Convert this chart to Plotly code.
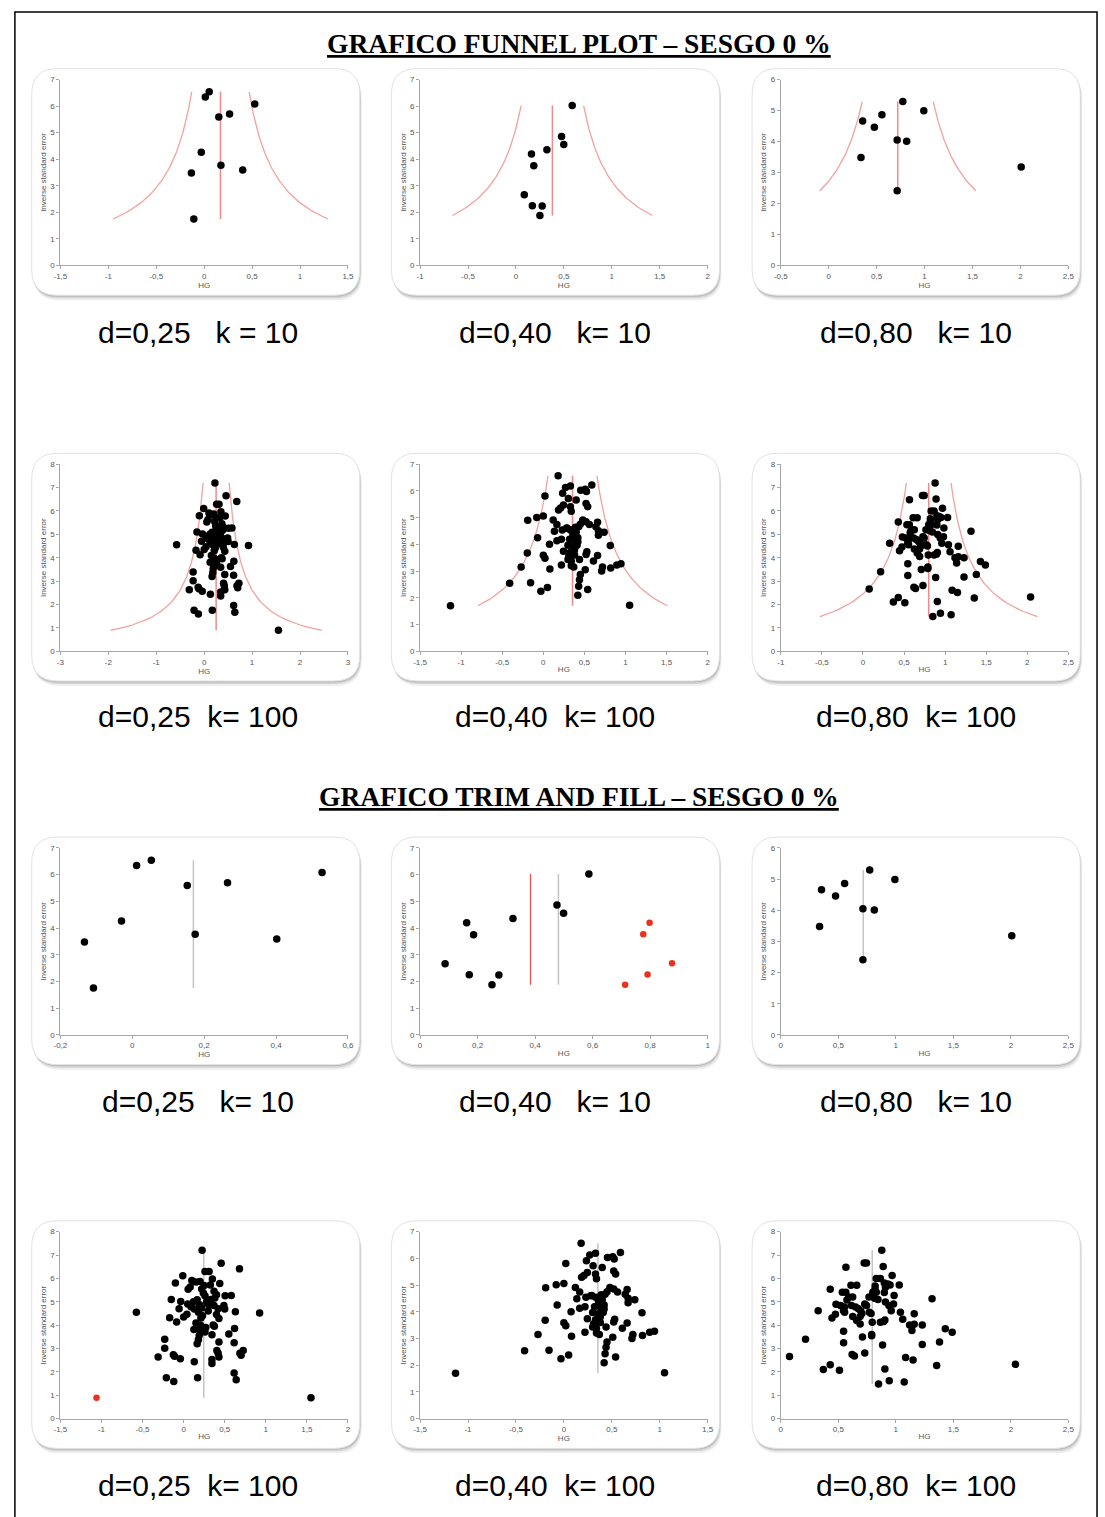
import numpy as np
import plotly.graph_objects as go

W, H = 1105, 1517

# ---------------- data ----------------
d25_k10_x = [-0.133, -0.108, -0.030, 0.012, 0.053, 0.153, 0.175, 0.265, 0.402, 0.528]
d25_k10_y = [3.48, 1.75, 4.26, 6.34, 6.54, 5.59, 3.77, 5.70, 3.59, 6.08]

d40_k10_x = [0.087, 0.162, 0.186, 0.171, 0.250, 0.274, 0.323, 0.476, 0.499, 0.587]
d40_k10_y = [2.66, 4.20, 3.75, 2.25, 1.88, 2.24, 4.36, 4.86, 4.55, 6.02]
d40_k10_fill_x = [0.713, 0.776, 0.791, 0.798, 0.876]
d40_k10_fill_y = [1.88, 3.77, 2.26, 4.20, 2.68]

d80_k10_x = [0.337, 0.354, 0.476, 0.555, 0.714, 0.714, 0.773, 0.813, 0.992, 2.008]
d80_k10_y = [3.48, 4.66, 4.46, 4.86, 4.05, 2.41, 5.29, 4.01, 4.99, 3.18]

d25_k100_x = [0.225, 0.457, 0.68, 0.26, 0.31, -0.01, 0.10, -0.10, 0.20, 0.35,
              0.44, 0.325, 0.055, 0.08, 0.22, 0.24, 0.26, 0.505, 0.58, 0.38,
              -0.15, -0.035, 0.165, 0.195, 0.29, 0.335, 0.37, 0.49, -0.055, 0.09,
              0.13, 0.22, 0.42, 0.50, 0.63, 0.925, -0.575, 0.04, 0.40, -0.17,
              0.0, 0.43, -0.085, 0.15, 0.205, 0.375, 0.19, 0.125, 0.62, 0.26,
              0.19, 0.345, 0.55, -0.23, 0.18, 0.165, 0.43, 0.615, -0.23, 0.405,
              0.725, 0.685, 0.70, -0.125, -0.31, -0.11, -0.04, 0.42, 0.43, 0.345,
              0.345, 0.13, 0.615, 0.64, -0.21, -0.12, 0.17, 1.55,
              0.28, 0.33, 0.30, 0.23, 0.36, 0.27, 0.12, 0.37, 0.15, 0.05,
              0.21, 0.31, 0.18, 0.40, 0.25]
d25_k100_y = [7.20, 6.65, 6.41, 6.29, 6.29, 6.11, 5.91, 5.80, 5.87, 5.97,
              5.78, 5.72, 5.53, 5.63, 5.55, 5.37, 5.26, 5.26, 5.27, 5.16,
              5.10, 5.01, 5.09, 4.87, 4.94, 4.94, 4.84, 4.84, 4.70, 4.79,
              4.69, 4.73, 4.70, 4.69, 4.57, 4.52, 4.55, 4.47, 4.45, 4.32,
              4.35, 4.28, 4.13, 4.09, 3.99, 3.95, 3.81, 3.81, 3.85, 3.71,
              3.55, 3.59, 3.62, 3.39, 3.37, 3.20, 3.28, 3.25, 3.01, 2.91,
              2.91, 2.80, 2.71, 2.73, 2.63, 2.67, 2.56, 2.80, 2.63, 2.53,
              2.36, 2.43, 1.95, 1.66, 1.75, 1.59, 1.75, 0.89,
              5.00, 5.10, 4.60, 4.40, 4.00, 3.90, 5.00, 5.45, 5.85, 4.90,
              4.30, 4.85, 4.55, 5.30, 5.70]
d25_k100_fill_x = [-1.06]
d25_k100_fill_y = [0.89]

d40_k100_x = [0.18, 0.33, 0.27, 0.59, 0.455, 0.51, 0.525, 0.235, 0.02, 0.305,
              0.40, 0.52, 0.54, 0.245, 0.33, 0.34, 0.21, 0.185, 0.0, -0.08,
              -0.19, 0.12, 0.165, 0.48, 0.52, 0.56, 0.66, 0.64, 0.67, 0.67,
              0.74, 0.23, 0.135, 0.29, 0.33, 0.39, 0.43, 0.36, 0.39, 0.36,
              0.42, -0.07, 0.165, 0.22, 0.32, 0.39, 0.42, 0.075, 0.30, 0.36,
              0.41, 0.815, -0.195, 0.0, 0.02, 0.245, 0.31, 0.30, 0.34, 0.36,
              0.38, 0.53, 0.52, 0.44, 0.66, 0.61, 0.22, 0.34, 0.37, 0.08,
              -0.27, 0.51, 0.72, 0.71, 0.82, 0.895, 0.945, 0.45, 0.44, 0.43,
              -0.41, -0.155, 0.05, -0.03, 0.54, 0.42, -1.13, 1.05,
              0.37, 0.40, 0.33, 0.38, 0.28, 0.45]
d40_k100_y = [6.57, 6.19, 6.13, 6.22, 6.03, 6.06, 5.98, 5.91, 5.81, 5.72,
              5.66, 5.53, 5.41, 5.47, 5.41, 5.24, 5.36, 5.29, 5.06, 5.01,
              4.90, 4.91, 4.74, 4.91, 4.85, 4.74, 4.83, 4.66, 4.51, 4.34,
              4.45, 4.54, 4.49, 4.61, 4.54, 4.64, 4.66, 4.42, 4.33, 4.28,
              4.25, 4.25, 4.13, 4.19, 4.19, 4.08, 4.10, 4.00, 3.97, 3.93,
              3.97, 3.96, 3.68, 3.59, 3.48, 3.74, 3.55, 3.43, 3.37, 3.74,
              3.80, 3.72, 3.62, 3.43, 3.58, 3.38, 3.23, 3.20, 3.15, 3.08,
              3.15, 3.05, 3.15, 3.00, 3.11, 3.23, 3.27, 2.87, 2.67, 2.43,
              2.54, 2.56, 2.38, 2.24, 2.31, 2.09, 1.70, 1.72,
              4.55, 4.45, 3.70, 3.60, 4.60, 4.75]

d80_k100_x = [0.878, 0.725, 0.745, 0.566, 0.89, 0.968, 0.83, 0.866, 0.61, 0.66,
              0.90, 0.93, 0.95, 1.03, 0.43, 0.82, 0.82, 0.535, 0.565, 0.91,
              0.90, 0.83, 0.80, 0.59, 0.625, 0.767, 0.815, 0.845, 0.985, 0.575,
              0.91, 1.315, 0.48, 0.52, 0.555, 0.615, 0.65, 0.675, 0.73, 0.745,
              0.94, 0.98, 0.325, 0.545, 0.555, 0.695, 0.705, 0.77, 0.785, 0.96,
              1.04, 1.16, 0.475, 0.445, 0.625, 0.69, 0.66, 0.69, 0.905, 0.895,
              0.795, 0.866, 1.06, 1.12, 1.16, 1.23, 1.14, 0.546, 0.79, 0.79,
              0.71, 1.43, 1.49, 0.546, 0.215, 0.885, 1.23, 1.38, 0.076, 0.62,
              0.64, 0.73, 1.085, 1.15, 1.355, 2.04, 0.43, 0.37, 0.51, 0.905,
              0.943, 1.073, 0.85]
d80_k100_y = [7.20, 6.66, 6.66, 6.48, 6.51, 6.12, 6.00, 6.00, 5.71, 5.71,
              5.80, 5.76, 5.72, 5.72, 5.53, 5.67, 5.53, 5.41, 5.41, 5.62,
              5.40, 5.41, 5.41, 5.20, 5.20, 5.20, 5.15, 5.10, 5.27, 5.08,
              4.99, 5.13, 4.89, 4.84, 4.78, 4.84, 4.78, 4.70, 4.90, 4.84,
              4.84, 4.90, 4.62, 4.62, 4.55, 4.62, 4.50, 4.55, 4.50, 4.62,
              4.55, 4.49, 4.46, 4.30, 4.37, 4.37, 4.20, 4.05, 4.22, 4.15,
              4.12, 4.12, 4.25, 4.00, 4.04, 4.00, 3.77, 3.74, 3.60, 3.54,
              3.49, 3.84, 3.69, 3.24, 3.40, 3.15, 3.17, 3.28, 2.66, 2.74,
              2.68, 2.81, 2.61, 2.51, 2.27, 2.32, 2.30, 2.10, 2.07, 2.12,
              1.62, 1.56, 1.48]

# pooled estimates (vertical lines)
funnel_center = [0.17, 0.38, 0.72, 0.25, 0.355, 0.80]
tf_gray_center = [0.17, 0.481, 0.717, 0.245, 0.355, 0.795]
tf_red_center_d40_k10 = 0.384
Z = 1.96

# axis ticks
xt = [
    [-1.5, -1, -0.5, 0, 0.5, 1, 1.5],
    [-1, -0.5, 0, 0.5, 1, 1.5, 2],
    [-0.5, 0, 0.5, 1, 1.5, 2, 2.5],
    [-3, -2, -1, 0, 1, 2, 3],
    [-1.5, -1, -0.5, 0, 0.5, 1, 1.5, 2],
    [-1, -0.5, 0, 0.5, 1, 1.5, 2, 2.5],
    [-0.2, 0, 0.2, 0.4, 0.6],
    [0, 0.2, 0.4, 0.6, 0.8, 1],
    [0, 0.5, 1, 1.5, 2, 2.5],
    [-1.5, -1, -0.5, 0, 0.5, 1, 1.5, 2],
    [-1.5, -1, -0.5, 0, 0.5, 1, 1.5],
    [0, 0.5, 1, 1.5, 2, 2.5],
]
ymax = [7, 7, 6, 8, 7, 8, 7, 7, 6, 8, 7, 8]

captions = [
    "d=0,25   k = 10", "d=0,40   k= 10", "d=0,80   k= 10",
    "d=0,25  k= 100", "d=0,40  k= 100", "d=0,80  k= 100",
    "d=0,25   k= 10", "d=0,40   k= 10", "d=0,80   k= 10",
    "d=0,25  k= 100", "d=0,40  k= 100", "d=0,80  k= 100",
]
titles = ["GRAFICO FUNNEL PLOT – SESGO 0 %", "GRAFICO TRIM AND FILL – SESGO 0 %"]

datasets = [(d25_k10_x, d25_k10_y), (d40_k10_x, d40_k10_y), (d80_k10_x, d80_k10_y),
            (d25_k100_x, d25_k100_y), (d40_k100_x, d40_k100_y), (d80_k100_x, d80_k100_y)]
fills = {1: (d40_k10_fill_x, d40_k10_fill_y), 3: (d25_k100_fill_x, d25_k100_fill_y)}

for a, b in datasets:
    assert len(a) == len(b), (len(a), len(b))

# ---------------- layout geometry (pixels) ----------------
col_x0 = [54, 418, 783]
plot_w = 291
row_y = [(76, 263), (463, 651), (849, 1037), (1235, 1423)]
caption_x = [193, 555, 920]
caption_y = [330, 717, 1104, 1490]
title_y = [40, 797]


def px(x):
    return x / W


def py(y):
    return 1 - y / H


def rounded_rect(x0, y0, x1, y1, r):
    rx, ry = r / W, r / H
    X0, X1, Y0, Y1 = px(x0), px(x1), py(y0), py(y1)
    return (f"M {X0+rx},{Y0} L {X1-rx},{Y0} Q {X1},{Y0} {X1},{Y0-ry} "
            f"L {X1},{Y1+ry} Q {X1},{Y1} {X1-rx},{Y1} L {X0+rx},{Y1} "
            f"Q {X0},{Y1} {X0},{Y1+ry} L {X0},{Y0-ry} Q {X0},{Y0} {X0+rx},{Y0} Z")


def fmt(v):
    return ("%g" % v).replace(".", ",")


fig = go.Figure()
shapes = []
annotations = []
layout_axes = {}

for p in range(12):
    row, col = divmod(p, 3)
    ds = p % 6
    is_tf = p >= 6
    x0 = col_x0[col]
    yt, yb = row_y[row]
    n = p + 1
    xa = "x" if n == 1 else f"x{n}"
    ya = "y" if n == 1 else f"y{n}"

    # panel background (shadow + rounded card)
    for off, op in [(5, 0.10), (3, 0.16), (1.5, 0.22)]:
        shapes.append(dict(type="path", xref="paper", yref="paper", layer="below",
                           path=rounded_rect(x0 - 29 + off * 0.4, yt - 11 + off, x0 + 303 + off * 0.4, yb + 30 + off, 26),
                           fillcolor=f"rgba(90,90,90,{op})", line=dict(width=0)))
    shapes.append(dict(type="path", xref="paper", yref="paper", layer="below",
                       path=rounded_rect(x0 - 29, yt - 11, x0 + 303, yb + 30, 26),
                       fillcolor="white", line=dict(color="#e2e2e2", width=1)))

    bx, by = datasets[ds]
    all_y = list(by)
    if is_tf and ds in fills:
        all_y += fills[ds][1]
    lo, hi = min(all_y), max(all_y)

    if not is_tf:
        c = funnel_center[ds]
        yy = np.linspace(lo, hi, 80)
        fig.add_trace(go.Scatter(x=c - Z / yy, y=yy, mode="lines", xaxis=xa, yaxis=ya,
                                 line=dict(color="#f2a0a0", width=1.3), hoverinfo="skip"))
        fig.add_trace(go.Scatter(x=c + Z / yy, y=yy, mode="lines", xaxis=xa, yaxis=ya,
                                 line=dict(color="#f2a0a0", width=1.3), hoverinfo="skip"))
        fig.add_trace(go.Scatter(x=[c, c], y=[lo, hi], mode="lines", xaxis=xa, yaxis=ya,
                                 line=dict(color="#f08a8a", width=1.5), hoverinfo="skip"))
    else:
        c = tf_gray_center[ds]
        if ds == 1:
            cr = tf_red_center_d40_k10
            fig.add_trace(go.Scatter(x=[cr, cr], y=[lo, hi], mode="lines", xaxis=xa, yaxis=ya,
                                     line=dict(color="#e55050", width=1.3), hoverinfo="skip"))
        fig.add_trace(go.Scatter(x=[c, c], y=[lo, hi], mode="lines", xaxis=xa, yaxis=ya,
                                 line=dict(color="#c4c4c4", width=1.5), hoverinfo="skip"))

    fig.add_trace(go.Scatter(x=bx, y=by, mode="markers", xaxis=xa, yaxis=ya,
                             marker=dict(color="black", size=7.5, line=dict(width=0)),
                             cliponaxis=False))
    if is_tf and ds in fills:
        fx, fy = fills[ds]
        fig.add_trace(go.Scatter(x=fx, y=fy, mode="markers", xaxis=xa, yaxis=ya,
                                 marker=dict(color="#e8321e", size=6.5, line=dict(width=0)),
                                 cliponaxis=False))

    ticks = xt[p]
    axis_common = dict(showline=True, linecolor="#a8a8a8", linewidth=1, ticks="outside",
                       ticklen=3, tickcolor="#a8a8a8", tickfont=dict(size=8, color="#555",
                                                                      family="Liberation Sans"),
                       showgrid=False, zeroline=False, fixedrange=True)
    layout_axes["xaxis" if n == 1 else f"xaxis{n}"] = dict(
        axis_common, domain=[px(x0), px(x0 + plot_w)], range=[ticks[0], ticks[-1]],
        tickvals=ticks, ticktext=[fmt(v) for v in ticks], anchor=ya,
        title=dict(text="HG", font=dict(size=8, color="#555", family="Liberation Sans"), standoff=0))
    yt_vals = list(range(0, ymax[p] + 1))
    layout_axes["yaxis" if n == 1 else f"yaxis{n}"] = dict(
        axis_common, domain=[py(yb), py(yt)], range=[0, ymax[p]],
        tickvals=yt_vals, ticktext=[str(v) for v in yt_vals], anchor=xa,
        title=dict(text="Inverse standard error", font=dict(size=8, color="#555",
                                                             family="Liberation Sans"), standoff=2))

    annotations.append(dict(text=captions[p].replace(" ", "\u00a0"), x=px(caption_x[col]),
                            y=py(caption_y[row]), xref="paper", yref="paper", showarrow=False,
                            xanchor="center", yanchor="middle",
                            font=dict(size=30, color="black", family="Liberation Sans")))

for t, ty in zip(titles, title_y):
    annotations.append(dict(text=f"<b><u>{t}</u></b>", x=px(579), y=py(ty), xref="paper",
                            yref="paper", showarrow=False, xanchor="center", yanchor="middle",
                            font=dict(size=27.5, color="black", family="Liberation Serif")))

# outer frame
shapes.append(dict(type="rect", xref="paper", yref="paper", layer="below",
                   x0=px(8), x1=px(1103), y0=py(1530), y1=py(8),
                   line=dict(color="black", width=1.5), fillcolor="rgba(0,0,0,0)"))

fig.update_layout(width=W, height=H, margin=dict(l=0, r=0, t=0, b=0),
                  paper_bgcolor="white", plot_bgcolor="rgba(0,0,0,0)",
                  showlegend=False, shapes=shapes, annotations=annotations,
                  **layout_axes)

fig.write_html("out.html", post_script="document.body.style.margin='0px';")
